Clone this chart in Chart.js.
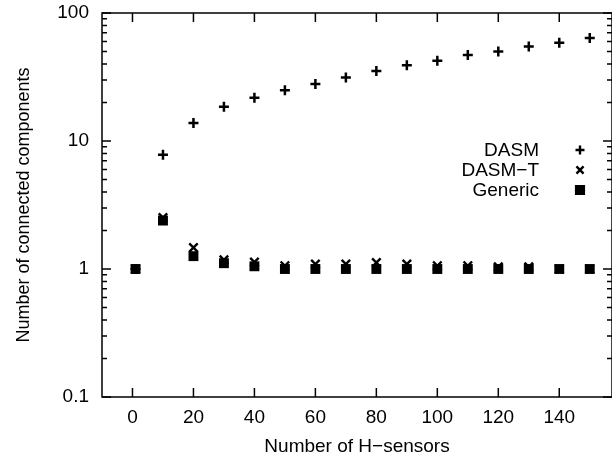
<!DOCTYPE html>
<html>
<head>
<meta charset="utf-8">
<script src="https://cdn.jsdelivr.net/npm/chart.js@4/dist/chart.umd.min.js"></script>
<style>
  html, body { margin: 0; padding: 0; background: #fff; }
  #wrap { width: 612px; height: 458px; }
</style>
</head>
<body>
<div id="wrap"><canvas id="c" width="612" height="458"></canvas></div>
<script>
// ---- data ----
const xValues = [1, 10, 20, 30, 40, 50, 60, 70, 80, 90, 100, 110, 120, 130, 140, 150];
const dasm    = [1, 7.8, 13.8, 18.5, 21.8, 24.9, 27.9, 31.3, 35.3, 39.1, 42.3, 46.9, 50.0, 54.7, 58.5, 63.7];
const dasmT   = [1, 2.52, 1.47, 1.18, 1.13, 1.06, 1.09, 1.09, 1.12, 1.09, 1.06, 1.06, 1.04, 1.04, 1.0, 1.0];
const generic = [1, 2.39, 1.26, 1.11, 1.05, 1.0, 1.0, 1.0, 1.0, 1.0, 1.0, 1.0, 1.0, 1.0, 1.0, 1.0];
const seriesNames = ['DASM', 'DASM\u2212T', 'Generic'];
const xTickValues = [0, 20, 40, 60, 80, 100, 120, 140];
const yTickValues = [0.1, 1, 10, 100];
const yTickLabels = ['0.1', '1', '10', '100'];
const xTitle = 'Number of H\u2212sensors';
const yTitle = 'Number of connected components';

const FONT = "'Liberation Sans', Arial, Helvetica, sans-serif";

function pts(ys) { return xValues.map((x, i) => ({ x: x, y: ys[i] })); }

const styles = [
  { pointStyle: 'cross',    radius: 5, borderWidth: 2.5 },
  { pointStyle: 'crossRot', radius: 6, borderWidth: 2.4 },
  { pointStyle: 'rect',     radius: 7, borderWidth: 0 }
];

const framePlugin = {
  id: 'frame',
  beforeDatasetsDraw(chart) {
    const { ctx, chartArea: { left, right, top, bottom }, scales: { x, y } } = chart;
    ctx.save();
    ctx.strokeStyle = '#000';
    ctx.lineWidth = 1.5;
    ctx.strokeRect(left, top, right - left, bottom - top);
    ctx.beginPath();
    xTickValues.forEach(v => {
      const px = x.getPixelForValue(v);
      ctx.moveTo(px, bottom); ctx.lineTo(px, bottom - 9);
      ctx.moveTo(px, top); ctx.lineTo(px, top + 9);
    });
    for (let d = 0; d < yTickValues.length; d++) {
      const base = yTickValues[d];
      const maxM = d === yTickValues.length - 1 ? 1 : 9;
      for (let m = 1; m <= maxM; m++) {
        const py = y.getPixelForValue(base * m);
        const len = m === 1 ? 9 : 5;
        ctx.moveTo(left, py); ctx.lineTo(left + len, py);
        ctx.moveTo(right, py); ctx.lineTo(right - len, py);
      }
    }
    ctx.stroke();
    ctx.restore();
  },
  afterDraw(chart) {
    const { ctx } = chart;
    ctx.save();
    ctx.fillStyle = '#000';
    ctx.strokeStyle = '#000';
    ctx.font = '19px ' + FONT;
    ctx.textAlign = 'right';
    ctx.textBaseline = 'middle';
    const rowsY = [150, 170, 190];
    const legendRadius = [4.5, 5, 5.5];
    seriesNames.forEach((name, i) => {
      ctx.fillText(name, 539, rowsY[i] + 1);
      const s = styles[i];
      ctx.lineWidth = 2.4;
      Chart.helpers.drawPoint(ctx, { pointStyle: s.pointStyle, radius: legendRadius[i], borderWidth: 2.4, rotation: 0 }, 580, rowsY[i]);
    });
    ctx.restore();
  }
};

const datasets = [dasm, dasmT, generic].map((ys, i) => ({
  label: seriesNames[i],
  data: pts(ys),
  showLine: false,
  pointStyle: styles[i].pointStyle,
  pointRadius: styles[i].radius,
  pointHoverRadius: styles[i].radius,
  pointBorderWidth: styles[i].borderWidth,
  pointBorderColor: '#000',
  pointBackgroundColor: '#000',
  order: 2 - i
}));

new Chart(document.getElementById('c'), {
  type: 'scatter',
  data: { datasets: datasets },
  options: {
    responsive: false,
    animation: false,
    events: [],
    layout: { autoPadding: false, padding: { top: 13, right: -1, left: 0, bottom: 0 } },
    plugins: { legend: { display: false }, tooltip: { enabled: false } },
    scales: {
      x: {
        type: 'linear',
        min: -10,
        max: 157.3,
        grid: { display: false, drawTicks: false },
        border: { display: false },
        afterBuildTicks(scale) { scale.ticks = xTickValues.map(v => ({ value: v })); },
        afterFit(scale) { scale.height = 61; scale.paddingLeft = 0; scale.paddingRight = 0; },
        ticks: {
          color: '#000',
          padding: 9,
          maxRotation: 0,
          autoSkip: false,
          font: { family: FONT, size: 19 },
          callback: (v) => String(v)
        },
        title: {
          display: true,
          text: xTitle,
          color: '#000',
          font: { family: FONT, size: 19 },
          padding: { top: 0, bottom: 0 }
        }
      },
      y: {
        type: 'logarithmic',
        min: 0.1,
        max: 100,
        grid: { display: false, drawTicks: false },
        border: { display: false },
        afterBuildTicks(scale) { scale.ticks = yTickValues.map(v => ({ value: v, major: true })); },
        afterFit(scale) { scale.width = 102; scale.paddingTop = 0; scale.paddingBottom = 0; },
        ticks: {
          color: '#000',
          padding: 13,
          autoSkip: false,
          font: { family: FONT, size: 19 },
          callback: (v) => { const k = yTickValues.indexOf(v); return k >= 0 ? yTickLabels[k] : ''; }
        },
        title: {
          display: true,
          text: yTitle,
          color: '#000',
          font: { family: FONT, size: 18 },
          padding: { top: 13, bottom: 0 }
        }
      }
    }
  },
  plugins: [framePlugin]
});
</script>
</body>
</html>
